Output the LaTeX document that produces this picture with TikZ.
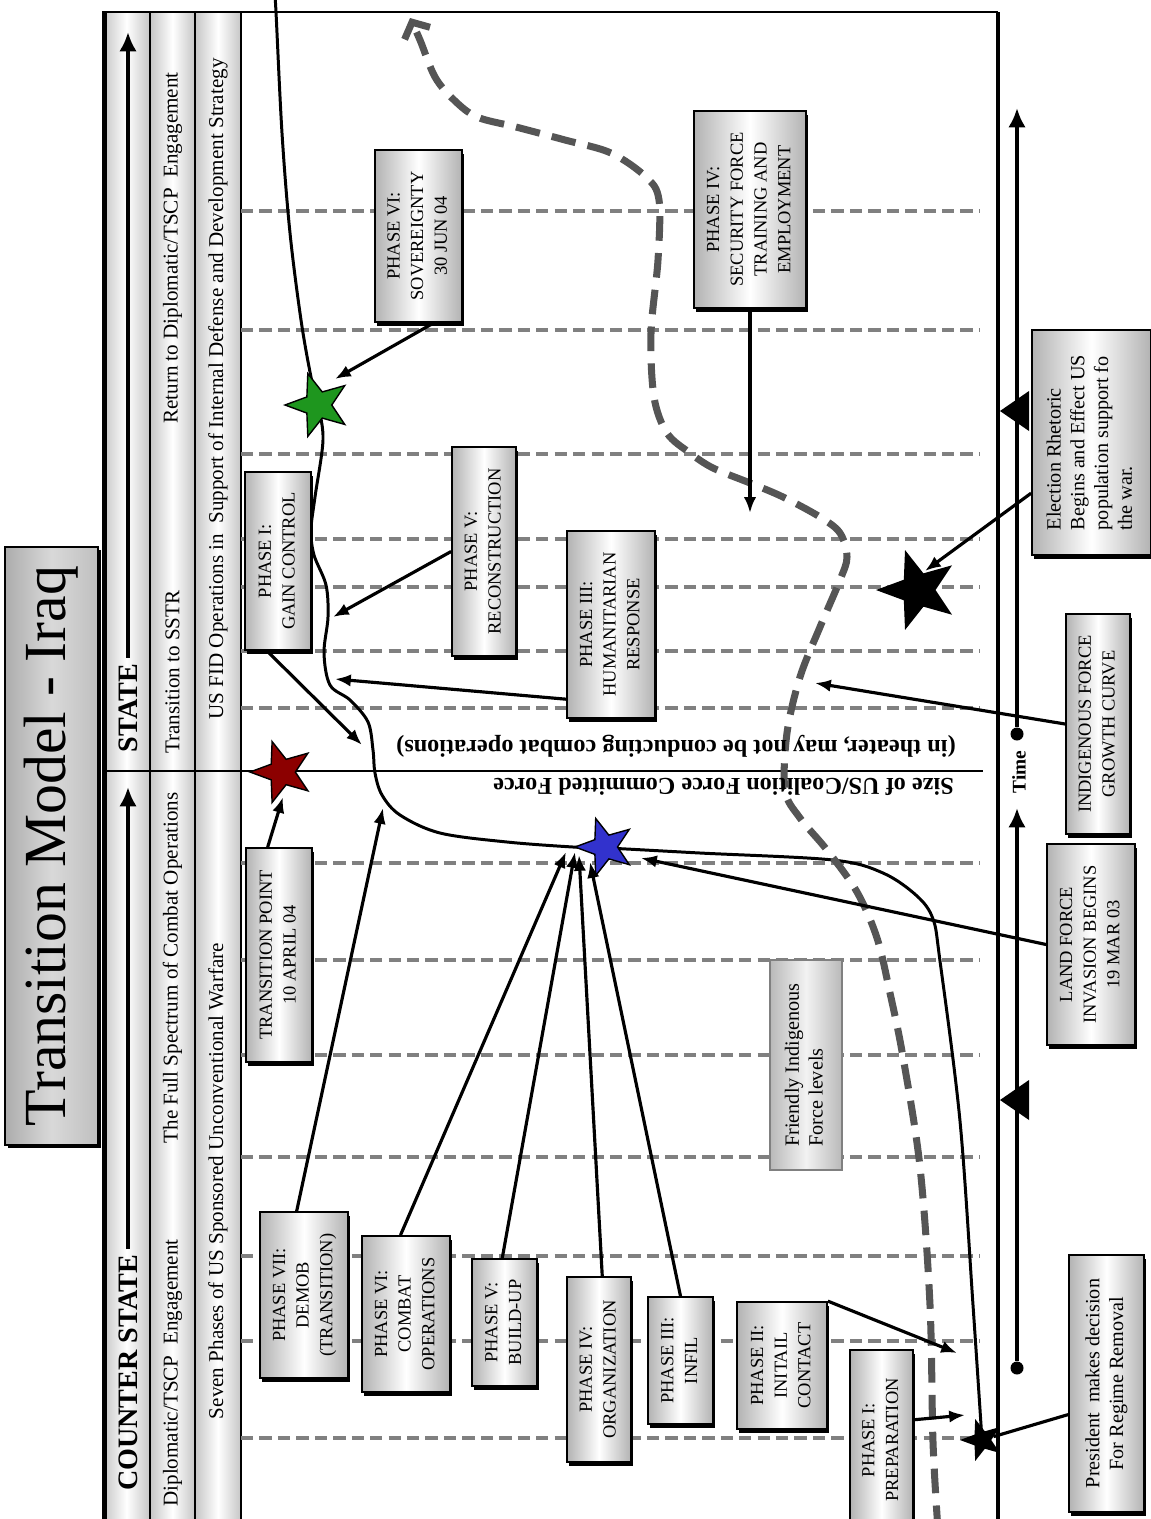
\documentclass[tikz,border=0pt]{standalone}
\usepackage{fontspec}
\setmainfont{Liberation Serif}
\usepackage{graphicx}
\usetikzlibrary{shapes.geometric,shadows,arrows.meta}

\definecolor{gridgray}{RGB}{128,128,128}
\definecolor{curvegray}{RGB}{85,85,85}
\definecolor{stargreen}{RGB}{30,150,30}
\definecolor{starred}{RGB}{140,0,0}
\definecolor{starblue}{RGB}{50,50,205}

\newcommand{\capsize}{\fontsize{10.5}{13.5}\selectfont}
\newcommand{\txtsize}{\fontsize{11.5}{13.5}\selectfont}
\newcommand{\hdrsize}{\fontsize{12}{13.5}\selectfont}
\newcommand{\rot}[1]{\rotatebox{90}{\begin{tabular}{@{}c@{}}#1\end{tabular}}}
\newcommand{\rotl}[1]{\rotatebox{90}{\begin{tabular}{@{}l@{}}#1\end{tabular}}}

\tikzset{
  phasebox/.style={draw, line width=1pt, inner sep=0pt,
    left color=gray!60, right color=gray!60, middle color=white,
    general shadow={fill=black, shadow xshift=1pt, shadow yshift=-2.5pt},
    font=\capsize},
  notebox/.style={draw=gray, line width=1pt, inner sep=0pt,
    left color=gray!55, right color=gray!55, middle color=gray!10,
    font=\txtsize},
  titlebox/.style={draw, line width=1.2pt, inner sep=0pt,
    left color=gray!65, right color=gray!50, middle color=gray!30,
    general shadow={fill=black, shadow xshift=1.5pt, shadow yshift=-1.5pt}},
  bandcol/.style={draw, line width=1pt, left color=gray!45, right color=gray!45, middle color=white},
  gridline/.style={gridgray, line width=2.2pt, dash pattern=on 7pt off 3.5pt},
  pointer/.style={line width=1.8pt, -{Latex[length=9pt,width=7pt]}},
  axisarrow/.style={line width=2.2pt, -{Latex[length=11pt,width=10pt]}},
  bigstar/.style={star, star points=5, star point ratio=2.4, shape border rotate=90,
    draw=black, line width=0.8pt, inner sep=0pt},
  dotnode/.style={circle, fill=black, inner sep=0pt},
}

\begin{document}
\begin{tikzpicture}[x=0.02cm,y=-0.02cm]
  \def\u{0.02cm}
  \useasboundingbox (0,0) rectangle (1151,1519);
  \clip (0,0) rectangle (1151,1519);

  % header bands
  \foreach \xa/\xb in {103/150,150/195,195/241}
    \draw[bandcol] (\xa,12) rectangle (\xb,1530);

  % grid
  \foreach \y in {211,330,454,539,587,651,708,863,960,1055,1157,1256,1341,1438}
    \draw[gridline] (241,\y) -- (980,\y);

  % frame
  \draw[line width=1.6pt] (103,12) -- (998,12);
  \draw[line width=2.4pt] (998,12) -- (998,1530);
  \draw[line width=3pt] (104.5,12) -- (104.5,1530);
  \draw[line width=1.2pt] (103,771) -- (983,771);

  % header texts
  \node[rotate=90, font=\bfseries\fontsize{16}{16}\selectfont] (cs) at (128,1373) {COUNTER STATE};
  \node[rotate=90, font=\bfseries\fontsize{16}{16}\selectfont] (st) at (128,708) {STATE};
  \coordinate (csEnd) at (128,787);
  \coordinate (stEnd) at (128,32);
  \draw[axisarrow] (cs) -- (csEnd);
  \draw[axisarrow] (st) -- (stEnd);

  \node[rotate=90, font=\hdrsize] (dipl) at (172.5,1373) {Diplomatic/TSCP~ Engagement};
  \node[rotate=90, font=\hdrsize] (full) at (172.5,968) {The Full Spectrum of Combat Operations};
  \node[rotate=90, font=\hdrsize] (sstr) at (172.5,672) {Transition to SSTR};
  \node[rotate=90, font=\hdrsize] (ret) at (172.5,248) {Return to Diplomatic/TSCP~ Engagement};
  \node[rotate=90, font=\hdrsize] (seven) at (218,1181) {Seven Phases of US Sponsored Unconventional Warfare};
  \node[rotate=90, font=\hdrsize] (fid) at (218,389) {US FID Operations in~ Support of Internal Defense and Development Strategy};

  % title
  \node[titlebox, minimum width=93*\u, minimum height=598*\u] (title) at (51.5,846)
    {\rotatebox{90}{\fontsize{34}{34}\selectfont Transition Model - Iraq}};

  % force curves
  \draw[line width=1.7pt] plot[smooth, tension=0.55] coordinates {
    (275,0) (276,12) (282,133) (290,233) (301,320) (311,377) (318,405) (323,440)
    (315,497) (311,530) (314,555) (326,585) (328,617) (324,653) (330,685)
    (350,700) (368,722) (373,750) (375,773) (382,795) (400,815) (440,833)
    (507,842) (573,847) (607,848) (700,853) (833,860) (883,873) (917,896)
    (933,919) (940,961) (960,1121) (973,1305) (982,1440)};
  \draw[curvegray, line width=4pt, dash pattern=on 14pt off 7pt,
        -{Straight Barb[length=7pt,width=16pt]}] plot[smooth, tension=0.55] coordinates {
    (938,1530) (933,1442) (930,1305) (920,1167) (903,1057) (890,993) (877,938)
    (857,892) (827,850) (800,818) (785,790) (787,733) (800,677) (820,627)
    (840,580) (847,557) (840,533) (820,517) (783,497) (750,483) (713,468)
    (690,453) (667,433) (654,397) (651,333) (658,260) (659,200) (646,177)
    (611,153) (565,140) (516,127) (477,117) (454,100) (435,77) (420,40) (410,18)};

  % labels of the force axis
  \node[rotate=180, anchor=west, font=\bfseries\fontsize{13.8}{14}\selectfont] (sizelbl) at (960,787)
    {Size of US/Coalition Force Committed Force};
  \node[rotate=180, anchor=west, font=\bfseries\fontsize{13.8}{14}\selectfont] (theater) at (962,746)
    {(in theater, may not be conducting combat operations)};

  % phase boxes
  \node[phasebox, minimum width=87*\u, minimum height=172*\u] (sov) at (418.5,236) {\rot{PHASE VI:\\SOVEREIGNTY\\30 JUN 04}};
  \node[phasebox, minimum width=112*\u, minimum height=197*\u] (sec) at (750,209.5) {\rot{PHASE IV:\\SECURITY FORCE\\TRAINING AND\\EMPLOYMENT}};
  \node[phasebox, minimum width=66*\u, minimum height=178*\u] (gain) at (278,561) {\rot{PHASE I:\\GAIN CONTROL}};
  \node[phasebox, minimum width=64*\u, minimum height=209*\u] (recon) at (484,551.5) {\rot{PHASE V:\\RECONSTRUCTION}};
  \node[phasebox, minimum width=88*\u, minimum height=187*\u] (human) at (611,624.5) {\rot{PHASE III:\\HUMANITARIAN\\RESPONSE}};
  \node[phasebox, minimum width=66*\u, minimum height=214*\u] (trans) at (279,955) {\rot{TRANSITION POINT\\10 APRIL 04}};
  \node[notebox, minimum width=72*\u, minimum height=210*\u] (friend) at (806,1065) {\rotl{Friendly Indigenous\\Force levels}};
  \node[phasebox, minimum width=88*\u, minimum height=166*\u] (demob) at (304,1295) {\rot{PHASE VII:\\DEMOB\\(TRANSITION)}};
  \node[phasebox, minimum width=88*\u, minimum height=156*\u] (combat) at (406,1314) {\rot{PHASE VI:\\COMBAT\\OPERATIONS}};
  \node[phasebox, minimum width=65*\u, minimum height=127*\u] (build) at (504.5,1322.5) {\rot{PHASE V:\\BUILD-UP}};
  \node[phasebox, minimum width=64*\u, minimum height=185*\u] (org) at (599,1369.5) {\rot{PHASE IV:\\ORGANIZATION}};
  \node[phasebox, minimum width=65*\u, minimum height=127*\u] (infil) at (680.5,1360.5) {\rot{PHASE III:\\INFIL}};
  \node[phasebox, minimum width=90*\u, minimum height=127*\u] (contact) at (782,1365.5) {\rot{PHASE II:\\INITAIL\\CONTACT}};
  \node[phasebox, minimum width=63*\u, minimum height=180*\u] (prep) at (881.5,1440) {\rot{PHASE I:\\PREPARATION}};

  % event boxes
  \node[phasebox, font=\txtsize, minimum width=119*\u, minimum height=225*\u] (elect) at (1091.5,442.5)
    {\rotl{Election Rhetoric\\Begins and Effect US\\population support fo\\the war.}};
  \node[phasebox, minimum width=64*\u, minimum height=220*\u] (indig) at (1098,724) {\rot{INDIGENOUS FORCE\\GROWTH CURVE}};
  \node[phasebox, minimum width=88*\u, minimum height=201*\u] (land) at (1091,944.5) {\rot{LAND FORCE\\INVASION BEGINS\\19 MAR 03}};
  \node[phasebox, font=\txtsize, minimum width=75*\u, minimum height=257*\u] (pres) at (1106.5,1383.5)
    {\rot{President~ makes decision\\For Regime Removal}};

  % time axis
  \node[dotnode, minimum size=13*\u] (dotA) at (1017,734) {};
  \node[dotnode, minimum size=13*\u] (dotB) at (1017,1368) {};
  \coordinate (tTop) at (1017,108);
  \coordinate (tMid) at (1017,808);
  \draw[axisarrow] (dotA) -- (tTop);
  \draw[axisarrow] (dotB) -- (tMid);
  \node[rotate=90, font=\bfseries\fontsize{11}{11}\selectfont, inner sep=1pt] (time) at (1019,772) {Time};
  \fill (1000,411) -- (1029,391) -- (1029,431) -- cycle;
  \fill (1000,1100) -- (1029,1080) -- (1029,1120) -- cycle;

  % pointers
  \coordinate (sovTip) at (335,379);
  \coordinate (secTip) at (750,513);
  \coordinate (reconTip) at (333,617);
  \coordinate (humanTip) at (335,679);
  \coordinate (gainTip) at (362,745);
  \coordinate (transTip) at (283,797);
  \coordinate (demobTip) at (383,808);
  \coordinate (combatTip) at (566,852);
  \coordinate (buildTip) at (575,852);
  \coordinate (orgTip) at (579,855);
  \coordinate (infilTip) at (590,862);
  \coordinate (landTip) at (641,858);
  \coordinate (indigTip) at (815,683);
  \coordinate (electTip) at (925,571);
  \coordinate (contactTip) at (957,1353);
  \coordinate (prepTip) at (965,1415);

  \draw[pointer] (sov.-80) -- (sovTip);
  \draw[pointer] (sec.south) -- (secTip);
  \draw[pointer] (recon.west) -- (reconTip);
  \draw[pointer] (human.239) -- (humanTip);
  \draw[pointer] (gain.263) -- (gainTip);
  \draw[pointer] (trans.96) -- (transTip);
  \draw[pointer] (demob.95) -- (demobTip);
  \draw[pointer] (combat.94) -- (combatTip);
  \draw[pointer] (build.92) -- (buildTip);
  \draw[pointer] (org.88) -- (orgTip);
  \draw[pointer] (infil.north) -- (infilTip);
  \draw[pointer] (land.west) -- (landTip);
  \draw[pointer] (indig.west) -- (indigTip);
  \draw[pointer] (elect.220) -- (electTip);
  \draw[pointer] (contact.north east) -- (contactTip);
  \draw[pointer] (prep.32) -- (prepTip);

  % stars
  \node[bigstar, fill=stargreen, minimum size=66*\u] (gstar) at (318,405) {};
  \node[bigstar, fill=starred, minimum size=64*\u] (rstar) at (282,772) {};
  \node[bigstar, fill=starblue, minimum size=60*\u] (bstar) at (605,847) {};
  \node[bigstar, fill=black, minimum size=80*\u] (kstar) at (918,590) {};
  \node[bigstar, fill=black, minimum size=40*\u] (sstar) at (982,1440) {};
  \draw[line width=1.8pt] (pres.219) -- (sstar);
\end{tikzpicture}
\end{document}
